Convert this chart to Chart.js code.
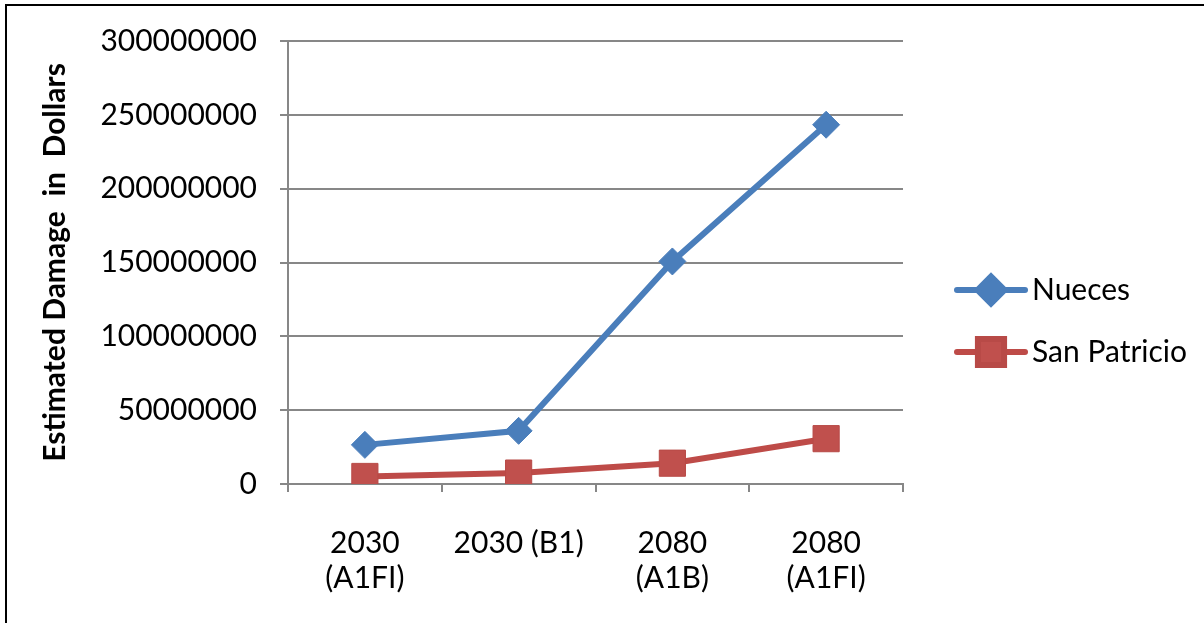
<!DOCTYPE html>
<html>
<head>
<meta charset="utf-8">
<script src="https://cdn.jsdelivr.net/npm/chart.js@4/dist/chart.umd.min.js"></script>
<style>
  html, body { margin: 0; padding: 0; background: #fff; overflow: hidden; }
  #wrap { position: relative; width: 1204px; height: 623px; }
  #frame { position: absolute; left: 5px; top: 4px; width: 3000px; height: 3000px;
           border-left: 2px solid #000; border-top: 2px solid #000; pointer-events: none; }
  canvas { position: absolute; left: 0; top: 0; }
</style>
</head>
<body>
<div id="wrap">
  <canvas id="c" width="1204" height="623"></canvas>
  <div id="frame"></div>
</div>
<script>
// Scenario categories (multi-line where the label wraps)
const categories = [["2030", "(A1FI)"], "2030 (B1)", ["2080", "(A1B)"], ["2080", "(A1FI)"]];
// Estimated damage in dollars per county
const nueces = [26500000, 36000000, 150700000, 243300000];
const sanPatricio = [5100000, 7400000, 14100000, 30700000];
// Value axis range
const yMin = 0, yMax = 300000000, yStep = 50000000;

const FONT = "Lato, 'Open Sans', sans-serif";
const GRID = '#878787';

const legendPlugin = {
  id: 'sideLegend',
  afterDraw(chart) {
    const ctx = chart.ctx;
    const rows = [290, 352];
    chart.data.datasets.forEach((ds, i) => {
      const y = rows[i];
      ctx.save();
      ctx.strokeStyle = ds.borderColor;
      ctx.lineWidth = ds.borderWidth;
      ctx.lineCap = 'round';
      ctx.beginPath();
      ctx.moveTo(957, y);
      ctx.lineTo(1025, y);
      ctx.stroke();
      ctx.fillStyle = ds.pointBackgroundColor;
      ctx.strokeStyle = ds.pointBorderColor;
      Chart.helpers.drawPoint(ctx, {
        pointStyle: ds.pointStyle, radius: ds.pointRadius, rotation: 0, borderWidth: 1
      }, 991, y);
      ctx.fillStyle = '#000';
      ctx.font = '30px ' + FONT;
      ctx.textBaseline = 'middle';
      ctx.textAlign = 'left';
      ctx.fillText(ds.label, 1032, y);
      ctx.restore();
    });
  }
};

new Chart(document.getElementById('c'), {
  type: 'line',
  data: {
    labels: categories,
    datasets: [
      {
        label: 'Nueces',
        data: nueces,
        borderColor: '#4a7ebb',
        borderWidth: 6,
        pointStyle: 'rectRot',
        pointRadius: 13.5,
        pointHoverRadius: 13.5,
        pointBackgroundColor: '#4a7ebb',
        pointBorderColor: '#4a7ebb',
        pointBorderWidth: 1,
        tension: 0
      },
      {
        label: 'San Patricio',
        data: sanPatricio,
        borderColor: '#be4b48',
        borderWidth: 6,
        pointStyle: 'rect',
        pointRadius: 18.5,
        pointHoverRadius: 18.5,
        pointBackgroundColor: '#c0504d',
        pointBorderColor: '#b84a47',
        pointBorderWidth: 1,
        tension: 0
      }
    ]
  },
  options: {
    responsive: false,
    animation: false,
    events: [],
    layout: { padding: { top: 39, right: 301, left: 0, bottom: 0 } },
    plugins: { legend: { display: false }, tooltip: { enabled: false } },
    scales: {
      x: {
        offset: true,
        grid: { display: true, drawOnChartArea: false, drawTicks: true, tickLength: 8,
                offset: true, color: GRID, lineWidth: 2 },
        border: { display: true, color: GRID, width: 2 },
        ticks: { color: '#000', font: { family: FONT, size: 30, lineHeight: 1.17 }, padding: 34,
                 autoSkip: false, maxRotation: 0, minRotation: 0 },
        afterFit(scale) { scale.height = 139; }
      },
      y: {
        min: yMin, max: yMax,
        grid: { color: GRID, lineWidth: 2, drawTicks: true, tickLength: 8 },
        border: { display: true, color: GRID, width: 2 },
        ticks: { stepSize: yStep, color: '#000', font: { family: FONT, size: 30 }, padding: 23,
                 callback: v => String(v) },
        title: { display: true, text: 'Estimated Damage  in  Dollars', color: '#000',
                 font: { family: FONT, size: 30, weight: 'bold' }, padding: { top: 37, bottom: 0 } },
        afterFit(scale) { scale.width = 288; }
      }
    }
  },
  plugins: [legendPlugin]
});
</script>
</body>
</html>
